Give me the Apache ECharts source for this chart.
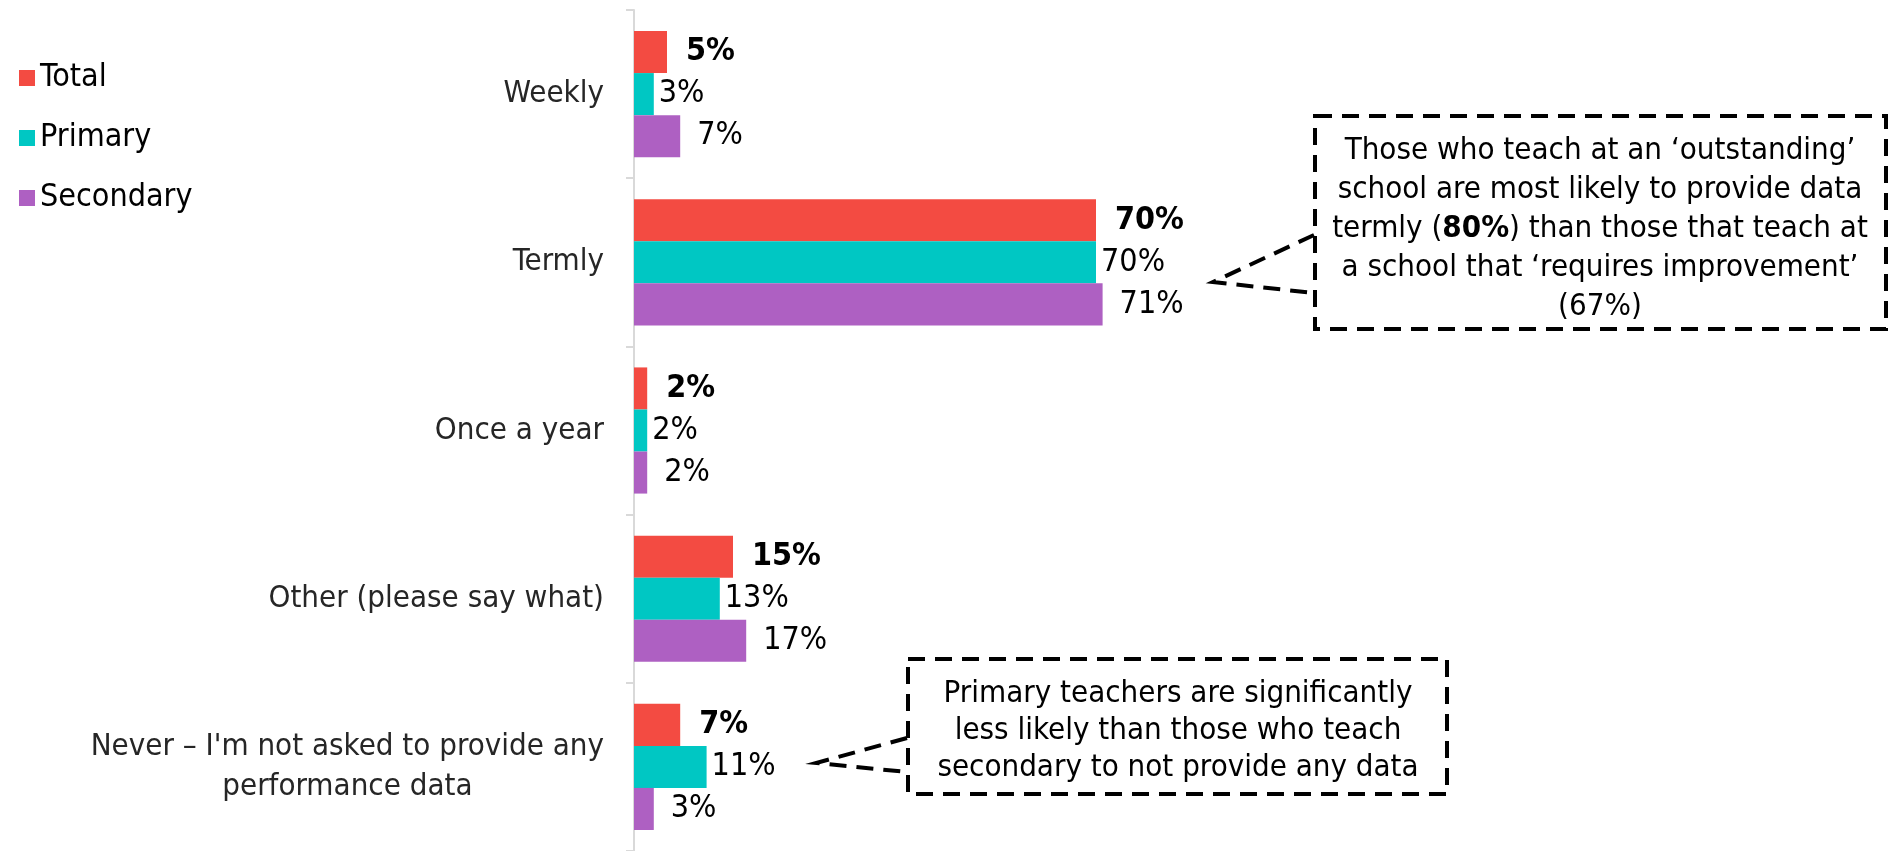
<!DOCTYPE html>
<html>
<head>
<meta charset="utf-8">
<script src="https://cdn.jsdelivr.net/npm/echarts@6/dist/echarts.min.js"></script>
<style>
  html, body { margin: 0; padding: 0; background: #fff; }
  #chart { width: 1888px; height: 851px; }
</style>
</head>
<body>
<div id="chart"></div>
<script>
const categories = [
  'Weekly',
  'Termly',
  'Once a year',
  'Other (please say what)',
  'Never \u2013 I\'m not asked to provide any\nperformance data'
];
const totalValues = [5, 70, 2, 15, 7];
const primaryValues = [3, 70, 2, 13, 11];
const secondaryValues = [7, 71, 2, 17, 3];

const FONT = "'Liberation Sans Narrow', 'DejaVu Sans Condensed', 'Liberation Sans', sans-serif";
const COLORS = ['#f34b42', '#00c7c3', '#ae60c2'];

const chart = echarts.init(document.getElementById('chart'));

// dashed outline used by both callouts
const dash = { stroke: '#000', lineWidth: 4, lineDash: [17, 10], fill: null };

chart.setOption({
  animation: false,
  color: COLORS,
  textStyle: { fontFamily: FONT },
  legend: {
    orient: 'vertical',
    left: 14,
    top: 57,
    itemWidth: 16,
    itemHeight: 16,
    itemGap: 28,
    icon: 'rect',
    textStyle: { fontSize: 32, color: '#000', fontFamily: FONT },
    data: ['Total', 'Primary', 'Secondary']
  },
  grid: { left: 634, top: 10, width: 660, bottom: 0 },
  xAxis: { type: 'value', min: 0, max: 100, show: false },
  yAxis: {
    type: 'category',
    inverse: true,
    data: categories,
    axisLine: { lineStyle: { color: '#d9d9d9', width: 2 } },
    axisTick: { show: true, length: 8, lineStyle: { color: '#d9d9d9', width: 2 } },
    axisLabel: {
      margin: 30,
      fontSize: 31,
      color: '#262626',
      fontFamily: FONT,
      lineHeight: 40,
      formatter: function (v) {
        if (v.indexOf('\n') < 0) return v;
        return v.split('\n').map(function (l) { return '{c|' + l + '}'; }).join('\n');
      },
      rich: { c: { align: 'center', fontSize: 31, lineHeight: 40, color: '#262626', fontFamily: FONT } }
    }
  },
  series: [
    {
      name: 'Total', type: 'bar', data: totalValues,
      barGap: '0%', barCategoryGap: '25%',
      label: { show: true, position: 'right', distance: 19, formatter: '{c}%', fontSize: 32, fontWeight: 'bold', color: '#000', fontFamily: FONT }
    },
    {
      name: 'Primary', type: 'bar', data: primaryValues,
      barGap: '0%', barCategoryGap: '25%',
      label: { show: true, position: 'right', distance: 5, formatter: '{c}%', fontSize: 32, color: '#000', fontFamily: FONT }
    },
    {
      name: 'Secondary', type: 'bar', data: secondaryValues,
      barGap: '0%', barCategoryGap: '25%',
      label: { show: true, position: 'right', distance: 17, formatter: '{c}%', fontSize: 32, color: '#000', fontFamily: FONT }
    }
  ],
  graphic: [
    // callout for Termly
    { type: 'rect', shape: { x: 1315, y: 116, width: 571, height: 213 }, style: Object.assign({}, dash, { fill: '#fff' }) },
    { type: 'polyline', shape: { points: [[1314, 235], [1213, 282], [1314, 293]] }, style: dash },
    {
      type: 'text', x: 1600, y: 229,
      style: {
        text: 'Those who teach at an \u2018outstanding\u2019\nschool are most likely to provide data\ntermly ({b|80%}) than those that teach at\na school that \u2018requires improvement\u2019\n(67%)',
        align: 'center', verticalAlign: 'middle',
        fontSize: 31, lineHeight: 39, fill: '#000', fontFamily: FONT,
        rich: { b: { fontWeight: 'bold', fontSize: 31, lineHeight: 39, fontFamily: FONT } }
      }
    },
    // callout for Never
    { type: 'rect', shape: { x: 908, y: 659, width: 539, height: 135 }, style: Object.assign({}, dash, { fill: '#fff' }) },
    { type: 'polyline', shape: { points: [[907, 738], [816, 763], [907, 772]] }, style: dash },
    {
      type: 'text', x: 1178, y: 731,
      style: {
        text: 'Primary teachers are significantly\nless likely than those who teach\nsecondary to not provide any data',
        align: 'center', verticalAlign: 'middle',
        fontSize: 31, lineHeight: 37, fill: '#000', fontFamily: FONT
      }
    }
  ]
});
</script>
</body>
</html>
